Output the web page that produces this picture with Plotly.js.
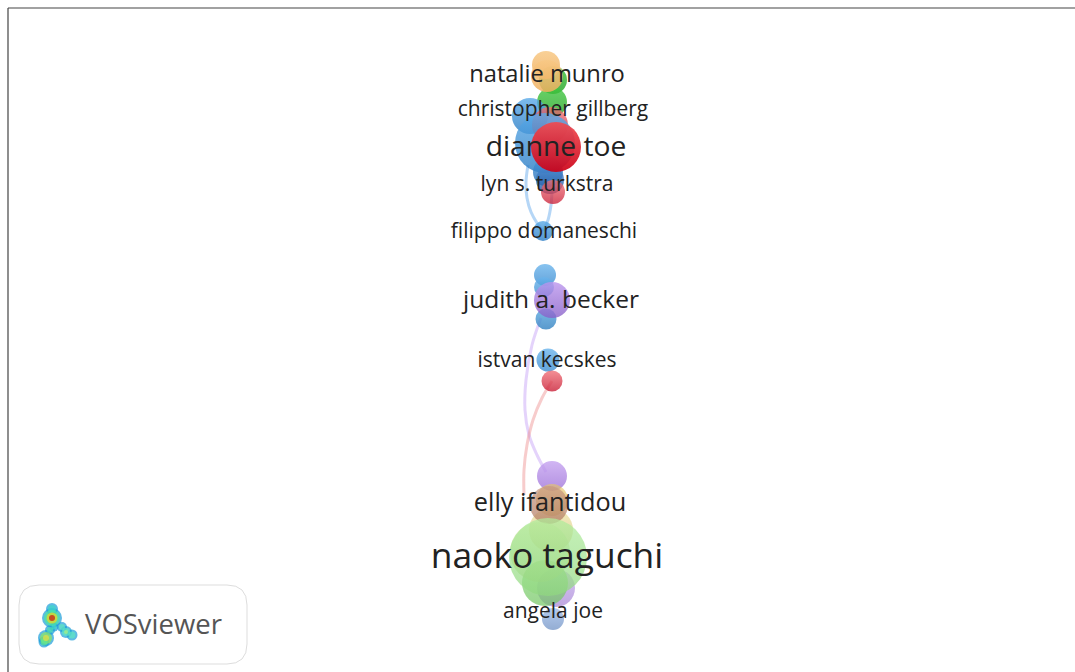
<!DOCTYPE html>
<html>
<head>
<meta charset="utf-8">
<script src="https://cdn.plot.ly/plotly-3.0.1.min.js"></script>
<style>html,body{margin:0;padding:0;background:#fff}#c{width:1075px;height:672px}</style>
</head>
<body>
<div id="c"></div>
<script>
const nodeX = [553,552,546,547, 530,550,545,548,550,553,543,556, 545,544,546,548,552,552, 552,552,551,549,553,556,545,540,548];
const nodeY = [ 80,102, 65, 76, 116,125,143,172,180,192,231,147, 275,287,319,360,381,300, 476,500,530,505,619,588,583,552,557];
const nodeD = [ 28, 30, 28, 32,  36, 36, 60, 30, 28, 24, 20, 50,  22, 20, 21, 23, 21, 36,  30, 32, 44, 38, 22, 38, 46, 60, 78];
const nodeC = ["#35c035","#40c840","#f8c884","#f8c884",
  "#5aaae8","#f07078","#5aaae8","#4a98dc","#4a88d0","#f07078","#5aaae8","#f04a50",
  "#6ab4ec","#6ab4ec","#5aa8e0","#6ab4ec","#f07078","#bc96ee",
  "#c4a0f0","#e8c860","#e8d880","#c89880","#a0bce8","#c0a0ec","#88d878","#c8e090","#b0ec9c"];
const nodeG = ["#20a020","#28a428","#f0b060","#f0b060",
  "#2a7cc4","#c81830","#2a7cc4","#1f68b0","#2058a0","#c81830","#2a7cc4","#cc0016",
  "#3c8cd0","#3c8cd0","#3080c0","#3c8cd0","#c81830","#8860c8",
  "#9c70d8","#c8a040","#c8b060","#b07860","#7898c8","#9c78d0","#70c460","#a8cc78","#90d880"];
const nodeO = [0.8,0.8,0.85,0.85, 0.8,0.75,0.8,0.8,0.8,0.75,0.8,0.92,
  0.8,0.8,0.8,0.8,0.78,0.8, 0.78,0.6,0.55,0.72,0.8,0.65,0.7,0.55,0.72];

// Links
const linkPurpleX = [541,532,526,525,529,537,546];
const linkPurpleY = [318,345,380,410,435,455,472];
const linkRedX = [552,542,533,527,524,524];
const linkRedY = [381,398,420,445,470,495];
const linkBlueAX = [528,526,527,531,537,543];
const linkBlueAY = [165,182,198,212,223,231];
const linkBlueBX = [552,551,548,543];
const linkBlueBY = [192,205,220,231];

// Labels
const labelText = ["natalie munro","christopher gillberg","dianne toe","lyn s. turkstra","filippo domaneschi","judith a. becker","istvan kecskes","elly ifantidou","naoko taguchi","angela joe"];
const labelX = [547,553,556,547,544,551,547,550,547,553];
const labelY = [76,111,149,186,233,302,362,505,559,613];
const labelSize = [23.7,21,28.2,21,21,24.5,21,25.3,35.4,21];

// Logo blobs
const logoX = [52,52,54,50,46,44,62,66,72, 52,52,54,50,46,44,62,66,72, 52,46,66, 52];
const logoY = [609,618,627,630,638,642,627,632,635, 609,618,627,630,638,642,627,632,635, 618,638,632, 618];
const logoD = [12,20,9,10,16,11,10,12,11, 8,16,5,6,12,7,6,8,7, 11,6,4, 6];
const logoC = ["#1a9cd8","#1a9cd8","#1a9cd8","#1a9cd8","#1a9cd8","#1a9cd8","#1a9cd8","#1a9cd8","#1a9cd8",
  "#40d8c8","#50e8a0","#40d8c8","#50e0b0","#90e860","#60e890","#60e8c0","#60e8c0","#60e8c0",
  "#f0d818","#e8e040","#a8f080","#c81010"];

const link = (x, y, color) => ({x, y, type:"scatter", mode:"lines", hoverinfo:"skip",
  line:{color, width:3, shape:"spline", smoothing:1}});

const traces = [
  link(linkPurpleX, linkPurpleY, "rgba(190,150,245,0.42)"),
  link(linkRedX, linkRedY, "rgba(235,120,120,0.38)"),
  link(linkBlueAX, linkBlueAY, "rgba(90,165,235,0.45)"),
  link(linkBlueBX, linkBlueBY, "rgba(90,165,235,0.45)"),
  {x:nodeX, y:nodeY, type:"scatter", mode:"markers", hoverinfo:"skip",
   marker:{size:nodeD, color:nodeC, opacity:nodeO, line:{width:0},
           gradient:{type:"vertical", color:nodeG}}},
  {x:labelX, y:labelY, text:labelText, type:"scatter", mode:"text", hoverinfo:"skip",
   textposition:"middle center",
   textfont:{family:"'Open Sans', sans-serif", size:labelSize, color:"#222222"}},
  {x:logoX, y:logoY, type:"scatter", mode:"markers", hoverinfo:"skip",
   marker:{size:logoD, color:logoC, line:{width:0}}},
  {x:[153.5], y:[627], text:["VOSviewer"], type:"scatter", mode:"text", hoverinfo:"skip",
   textposition:"middle center",
   textfont:{family:"'Open Sans', sans-serif", size:27.5, color:"#555555"}}
];

const layout = {
  width:1075, height:672, showlegend:false,
  margin:{l:0,r:0,t:0,b:0}, paper_bgcolor:"#fff", plot_bgcolor:"#fff",
  xaxis:{range:[0,1075], visible:false, fixedrange:true},
  yaxis:{range:[672,0], visible:false, fixedrange:true},
  shapes:[
    {type:"line", layer:"below", xref:"x", yref:"y", x0:8, x1:8, y0:8, y1:672, line:{color:"#444", width:1.2}},
    {type:"line", layer:"below", xref:"x", yref:"y", x0:8, x1:1075, y0:8, y1:8, line:{color:"#444", width:1.2}},
    {type:"path", layer:"below", xref:"x", yref:"y", line:{color:"#dddddd", width:1}, fillcolor:"#ffffff",
     path:"M 39 585 L 227 585 Q 247 585 247 605 L 247 644 Q 247 664 227 664 L 39 664 Q 19 664 19 644 L 19 605 Q 19 585 39 585 Z"}
  ]
};
Plotly.newPlot("c", traces, layout, {displayModeBar:false, staticPlot:true});
</script>
</body>
</html>
